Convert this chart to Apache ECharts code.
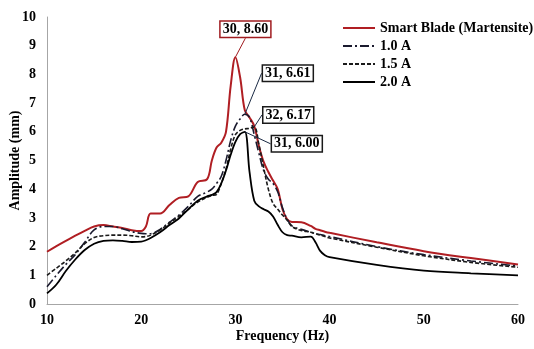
<!DOCTYPE html>
<html>
<head>
<meta charset="utf-8">
<script src="https://cdn.jsdelivr.net/npm/echarts@6/dist/echarts.min.js"></script>
<style>html,body{margin:0;padding:0;background:#fff}#c{width:534px;height:349px}</style>
</head>
<body>
<div id="c"></div>
<script>
const seriesNames = ['Smart Blade (Martensite)', '1.0 A', '1.5 A', '2.0 A'];
const freq = [10,11,12,13,14,15,16,17,18,19,20,20.5,21,22,23,24,25,26,27,27.5,28,28.5,29,29.5,30,30.5,31,31.5,32,32.5,33,33.5,34,34.5,35,35.5,36,37,38,38.5,39,39.5,40,45,50,55,60];
const ampMartensite = [1.82,2.02,2.2,2.38,2.55,2.7,2.75,2.7,2.65,2.57,2.54,2.7,3.15,3.15,3.45,3.7,3.75,4.25,4.35,5.0,5.45,5.62,6.0,7.6,8.6,7.9,6.75,6.5,6.2,5.5,4.95,4.6,4.3,4.0,3.3,2.95,2.86,2.85,2.72,2.62,2.57,2.52,2.48,2.15,1.84,1.6,1.38];
const amp10A = [0.6,1.0,1.38,1.72,2.15,2.58,2.7,2.7,2.62,2.52,2.46,2.45,2.45,2.6,2.85,3.1,3.4,3.75,3.9,4.0,4.2,4.45,5.0,5.7,6.2,6.45,6.61,6.5,5.9,5.25,4.65,4.35,4.2,3.9,3.35,2.95,2.72,2.6,2.5,2.45,2.42,2.38,2.35,2.0,1.72,1.5,1.32];
const amp15A = [1.0,1.25,1.5,1.78,2.1,2.32,2.38,2.4,2.4,2.38,2.34,2.35,2.4,2.58,2.82,3.05,3.3,3.55,3.72,3.78,3.82,4.2,4.7,5.4,5.9,6.05,6.1,6.12,6.17,5.55,4.75,4.0,3.5,3.3,3.1,2.92,2.7,2.56,2.5,2.45,2.4,2.35,2.3,1.98,1.68,1.45,1.28];
const amp20A = [0.37,0.68,1.15,1.55,1.88,2.1,2.2,2.22,2.2,2.16,2.17,2.22,2.3,2.5,2.75,2.98,3.3,3.6,3.75,3.8,3.9,4.2,4.65,5.2,5.65,5.92,6.0,4.6,3.6,3.4,3.3,3.22,3.05,2.75,2.5,2.4,2.38,2.32,2.35,2.15,1.85,1.7,1.63,1.36,1.16,1.07,1.0];
const peakFreq = [30, 31, 32, 31];
const peakAmp = [8.60, 6.61, 6.17, 6.00];
const peakText = ['30, 8.60', '31, 6.61', '32, 6.17', '31, 6.00'];
const xTicks = [10, 20, 30, 40, 50, 60];
const yTicks = [0,1,2,3,4,5,6,7,8,9,10];

const FONT = '"Liberation Serif", "Times New Roman", serif';
const FS = 14;
const zip = (xs, ys) => xs.map((x, i) => [x, ys[i]]);
const ampAll = [ampMartensite, amp10A, amp15A, amp20A];
const colors = ['#b01e23', '#1a1a2e', '#1a1a1a', '#000000'];
const dashes = ['solid', [9, 3, 2, 3], [4, 2], 'solid'];
const widths = [2, 1.6, 1.6, 1.8];
const labelOffsets = [[10, -28], [43, -41], [34, -12], [52, 12]];
const labelBorders = ['#a01c20', '#1a1a1a', '#1a1a1a', '#1a1a1a'];

const lineSeries = seriesNames.map((name, i) => ({
  name, type: 'line', data: zip(freq, ampAll[i]), smooth: 0.35,
  symbol: 'none', showSymbol: false,
  lineStyle: { color: colors[i], width: widths[i], type: dashes[i] },
  itemStyle: { color: colors[i] }, z: i === 0 ? 3 : 4
}));

const annot = {
  type: 'scatter', name: 'peaks', symbolSize: 1, itemStyle: { color: 'rgba(0,0,0,0)', opacity: 1 },
  silent: true, z: 10,
  data: peakFreq.map((f, i) => ({
    value: [f, peakAmp[i]],
    label: { borderColor: labelBorders[i] },
    labelLine: { lineStyle: { color: i === 0 ? '#a01c20' : '#1a2a44' } }
  })),
  label: {
    show: true, position: 'inside',
    formatter: p => peakText[p.dataIndex],
    fontFamily: FONT, fontWeight: 'bold', fontSize: FS, color: '#000',
    backgroundColor: '#fff', borderWidth: 1.5, padding: [1, 2, 0, 2]
  },
  labelLine: { show: true, lineStyle: { width: 1 } },
  labelLayout: p => ({ dx: labelOffsets[p.dataIndex][0], dy: labelOffsets[p.dataIndex][1] })
};

const chart = echarts.init(document.getElementById('c'), null, { renderer: 'canvas' });
chart.setOption({
  animation: false,
  backgroundColor: '#fff',
  grid: { left: 47, right: 16, top: 17, bottom: 45, containLabel: false, outerBoundsMode: 'none' },
  legend: {
    data: seriesNames, orient: 'vertical', left: 342, top: 21, padding: 0,
    itemWidth: 32, itemHeight: 14, itemGap: 4,
    itemStyle: { opacity: 0 },
    textStyle: { fontFamily: FONT, fontWeight: 'bold', fontSize: FS, color: '#000' }
  },
  xAxis: {
    type: 'value', min: xTicks[0], max: xTicks[xTicks.length - 1], interval: xTicks[1] - xTicks[0],
    name: 'Frequency (Hz)', nameLocation: 'middle', nameGap: 25, nameMoveOverlap: false,
    nameTextStyle: { fontFamily: FONT, fontWeight: 'bold', fontSize: FS, color: '#000' },
    axisLine: { lineStyle: { color: '#a6a6a6', width: 1 } },
    axisTick: { show: false }, splitLine: { show: false },
    axisLabel: { fontFamily: FONT, fontWeight: 'bold', fontSize: FS, color: '#000', margin: 9 }
  },
  yAxis: {
    type: 'value', min: yTicks[0], max: yTicks[yTicks.length - 1], interval: yTicks[1] - yTicks[0],
    name: 'Amplitude (mm)', nameLocation: 'middle', nameGap: 25, nameMoveOverlap: false,
    nameTextStyle: { fontFamily: FONT, fontWeight: 'bold', fontSize: FS, color: '#000' },
    axisLine: { show: true, lineStyle: { color: '#a6a6a6', width: 1 } },
    axisTick: { show: false }, splitLine: { show: false },
    axisLabel: { fontFamily: FONT, fontWeight: 'bold', fontSize: FS, color: '#000', margin: 11 }
  },
  series: [...lineSeries, annot]
});
</script>
</body>
</html>
